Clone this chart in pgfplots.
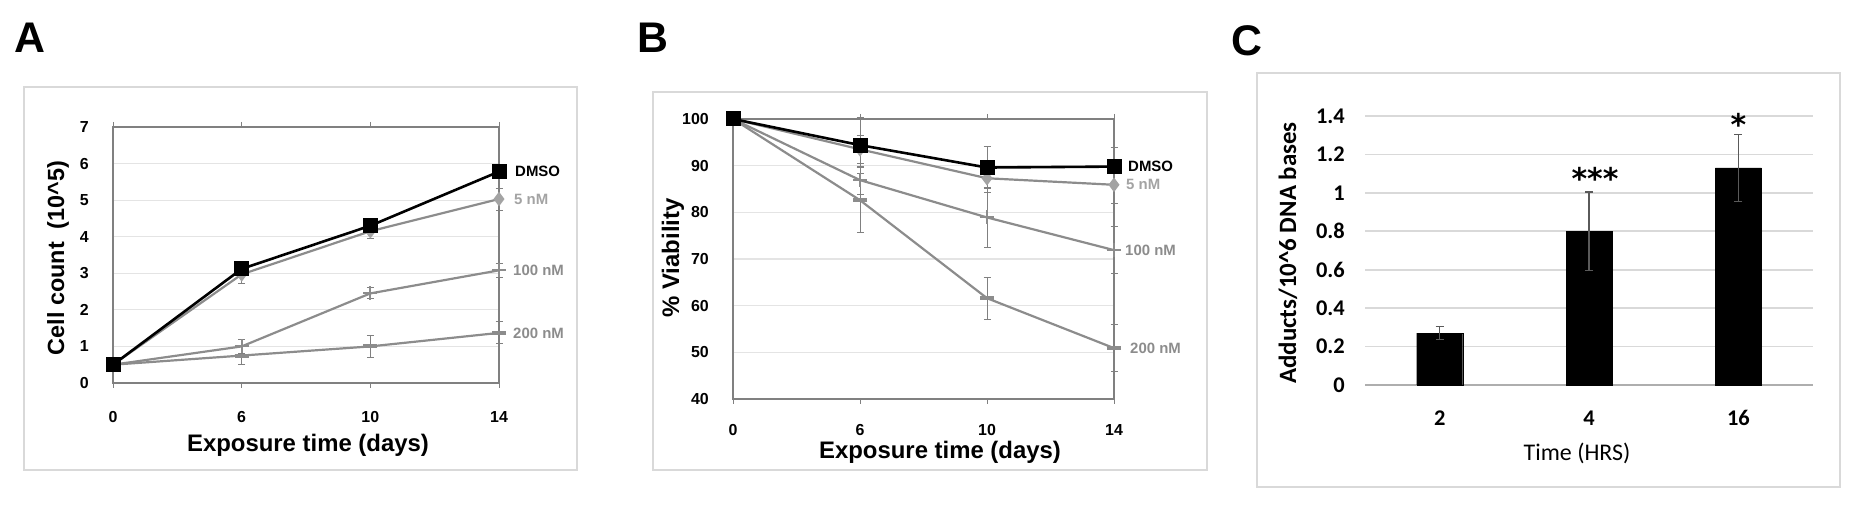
\documentclass[border=0pt]{standalone}
\usepackage{fontspec}
\setmainfont{Liberation Sans}
\newfontfamily\calib{Carlito}
\newfontfamily\starfont{DejaVu Sans}
\usepackage{pgfplots}
\usepackage{pgfplotstable}
\pgfplotsset{compat=1.18}

\definecolor{serg}{HTML}{8C8C8C}
\definecolor{serl}{HTML}{A3A3A3}
\definecolor{gridc}{HTML}{E4E4E4}
\definecolor{framec}{HTML}{D9D9D9}
\definecolor{axc}{HTML}{808080}
\definecolor{errc}{HTML}{5A5A5A}

% Cell counts (x10^5); x = day index 0,6,10,14
\pgfplotstableread{
x dmso dmsoE n5 n5E n100 n100E n200 n200E
0 0.50 0.05 0.50 0.05 0.50 0.05 0.50 0.05
1 3.12 0.08 2.97 0.25 1.00 0.20 0.75 0.25
2 4.30 0.10 4.15 0.20 2.45 0.15 1.00 0.30
3 5.78 0.10 5.03 0.30 3.08 0.20 1.37 0.30
}\cellcount

% Viability (%)
\pgfplotstableread{
x dmso dmsoE n5 n5E n100 n100E n200 n200E
0 100  0.5 100  0.5 100  0.5 100  0.5
1 94.4 6.0 93.5 3.0 86.9 3.0 82.6 7.0
2 89.6 4.4 87.3 3.0 78.9 6.5 61.6 4.5
3 89.8 4.0 85.9 4.0 71.9 5.0 50.9 5.0
}\viability

% DNA adducts per 10^6 bases
\pgfplotstableread{
x y e
0 0.27 0.035
1 0.80 0.205
2 1.13 0.175
}\adducts

\tikzset{
  serlab/.style={anchor=west, inner sep=0pt, font=\bfseries\fontsize{15}{16}\selectfont},
  star/.style={anchor=base, inner sep=0pt, font=\starfont\bfseries\fontsize{30}{30}\selectfont},
}
\pgfplotsset{
  linepanel/.style={
    scale only axis, clip=false,
    xmin=0, xmax=3,
    xtick={0,1,2,3}, xticklabels={0,6,10,14},
    ymajorgrids, grid style={gridc, line width=1.2bp},
    axis line style={axc, line width=1.3bp},
    xtick style={axc, line width=1bp}, tick align=outside,
    major tick length=5bp, ytick style={draw=none},
    /pgf/number format/assume math mode=true,
    ticklabel style={font=\bfseries\fontsize{16}{16}\selectfont, inner sep=0pt},
    yticklabel style={anchor=east, xshift=-19bp},
    error bars/y dir=both, error bars/y explicit,
    error bars/error bar style={axc, line width=1bp},
    error bars/error mark options={rotate=90, axc, mark size=3.5bp, line width=1bp},
  },
  s200/.style={serg, line width=2.2bp, mark=-, mark size=7bp, mark options={serg, line width=4bp}},
  s100/.style={serg, line width=2.2bp, mark=+, mark size=7bp, mark options={serg, line width=2bp}},
  s5/.style={serg, line width=2.2bp, mark=diamond*, mark size=5.5bp, mark options={serl, draw=serl}},
  sdmso/.style={black, line width=2.6bp, mark=square*, mark size=6.2bp, mark options={black}},
}

\begin{document}
\begin{tikzpicture}[x=1bp, y=1bp]
\useasboundingbox (0,0) rectangle (1868,512);

% panel frames
\draw[framec, line width=1.6bp] (24,42) rectangle (577,425);
\draw[framec, line width=1.6bp] (653,42) rectangle (1207,420);
\draw[framec, line width=1.6bp] (1257,25) rectangle (1840,439);

% panel letters
\node[font=\bfseries\fontsize{43}{43}\selectfont] at (30,474) {A};
\node[font=\bfseries\fontsize{43}{43}\selectfont] at (653,474) {B};
\node[font=\bfseries\fontsize{43}{43}\selectfont] at (1247,471) {C};

% ---------------- A: cell count ----------------
\begin{axis}[linepanel,
  at={(113bp,129bp)}, anchor=south west, width=386bp, height=256bp,
  ymin=0, ymax=7, ytick={0,1,...,7},
  xticklabel style={anchor=center, yshift=-29bp},
]
\addplot[s200] table[x=x, y=n200, y error=n200E] {\cellcount};
\addplot[s100] table[x=x, y=n100, y error=n100E] {\cellcount};
\addplot[s5] table[x=x, y=n5, y error=n5E] {\cellcount};
\addplot[sdmso] table[x=x, y=dmso, y error=dmsoE] {\cellcount};
\node[serlab, black] at (axis cs:3,5.78) [xshift=16bp] {DMSO};
\node[serlab, serl] at (axis cs:3,5.03) [xshift=15bp] {5 nM};
\node[serlab, serg] at (axis cs:3,3.08) [xshift=14bp] {100 nM};
\node[serlab, serg] at (axis cs:3,1.37) [xshift=14bp] {200 nM};
\end{axis}
\node[rotate=90, font=\bfseries\fontsize{23.5}{24}\selectfont] at (58,254) {Cell count\ \ (10\textasciicircum 5)};
\node[font=\bfseries\fontsize{24}{24}\selectfont] at (308,67) {Exposure time (days)};

% ---------------- B: viability ----------------
\begin{axis}[linepanel,
  at={(733bp,113bp)}, anchor=south west, width=381bp, height=280bp,
  ymin=40, ymax=100, ytick={40,50,...,100},
  xticklabel style={anchor=center, yshift=-26bp},
]
\addplot[s200] table[x=x, y=n200, y error=n200E] {\viability};
\addplot[s100] table[x=x, y=n100, y error=n100E] {\viability};
\addplot[s5] table[x=x, y=n5, y error=n5E] {\viability};
\addplot[sdmso] table[x=x, y=dmso, y error=dmsoE] {\viability};
\node[serlab, black] at (axis cs:3,89.8) [xshift=14bp] {DMSO};
\node[serlab, serl] at (axis cs:3,85.9) [xshift=12bp] {5 nM};
\node[serlab, serg] at (axis cs:3,71.9) [xshift=11bp] {100 nM};
\node[serlab, serg] at (axis cs:3,50.9) [xshift=16bp] {200 nM};
\end{axis}
\node[rotate=90, font=\bfseries\fontsize{24}{24}\selectfont] at (673,254) {\% Viability};
\node[font=\bfseries\fontsize{24}{24}\selectfont] at (940,60) {Exposure time (days)};

% ---------------- C: adducts ----------------
\begin{axis}[
  at={(1365bp,127bp)}, anchor=south west, width=448bp, height=269bp,
  scale only axis, clip=false,
  xmin=-0.5, xmax=2.5, ymin=0, ymax=1.4,
  ytick={0,0.2,0.4,0.6,0.8,1,1.2,1.4},
  xtick={0,1,2}, xticklabels={2,4,16},
  extra x ticks={-0.5,0.5,1.5,2.5}, extra x tick labels={},
  extra x tick style={major tick length=8bp, tick style={draw=framec!80!black, line width=1.2bp}, tick align=outside},
  axis x line*=bottom, axis y line*=left,
  x axis line style={draw=framec!80!black, line width=1.6bp},
  y axis line style={draw=none},
  xtick style={draw=none}, ytick style={draw=none},
  ymajorgrids, grid style={framec, line width=1.6bp},
  /pgf/number format/assume math mode=true,
  ticklabel style={font=\calib\bfseries\fontsize{22.5}{22}\selectfont, inner sep=0pt},
  yticklabel style={anchor=east, xshift=-20bp},
  xticklabel style={anchor=center, yshift=-33bp},
]
\addplot[ybar, bar width=46bp, fill=black, draw=black,
  error bars/.cd, y dir=both, y explicit,
  error bar style={errc, line width=1.3bp},
  error mark options={rotate=90, errc, mark size=4bp, line width=1.3bp}]
  table[x=x, y=y, y error=e] {\adducts};
\node[star] at (axis cs:1.04,1.015) {***};
\node[star] at (axis cs:2,1.30) {*};
\end{axis}
\node[rotate=90, font=\calib\bfseries\fontsize{25}{25}\selectfont] at (1288,259) {Adducts/10\textasciicircum 6 DNA bases};
\node[font=\calib\fontsize{24}{24}\selectfont] at (1577,59) {Time (HRS)};
\end{tikzpicture}
\end{document}
